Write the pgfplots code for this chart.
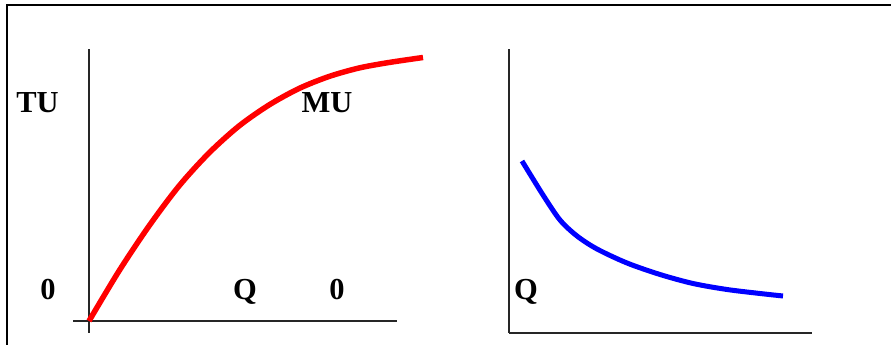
\documentclass[border=0pt]{standalone}
\usepackage{fontspec}
\setmainfont{Liberation Serif}
\usepackage{pgfplots}
\pgfplotsset{compat=1.18}

% curves, in pixels from each origin
\pgfplotstableread{
x y
0 0
30 50
60 95
90 135
120 168
150 195
180 216
210 232.5
240 244.5
270 253
300 258.5
334 263.5
}\tucurve
\pgfplotstableread{
x y
13 172
34 138
51 113
68 97
88 84
118 70
151 58.5
184 49.5
218 43.5
251 39.5
274 37
}\mucurve

\begin{document}
\begin{tikzpicture}[x=1pt,y=1pt]
\path[use as bounding box] (0,0) rectangle (891,345);
\draw[line width=2pt] (7,0) -- (7,339.5) -- (891,339.5);

\pgfplotsset{
  sketch/.style={
    scale only axis,
    xtick=\empty, ytick=\empty,
    axis line style={-, line width=1.4pt, black!85},
    clip=false,
  },
}

\begin{axis}[axis lines=middle, sketch,
  at={(73pt,12pt)}, anchor=south west,
  width=324pt, height=284pt,
  xmin=-16, xmax=308, ymin=-12, ymax=272]
\addplot[red, line width=5.5pt, smooth, tension=0.5] table {\tucurve};
\end{axis}

\begin{axis}[axis lines=left, sketch,
  at={(509pt,12pt)}, anchor=south west,
  width=303pt, height=284pt,
  xmin=0, xmax=303, ymin=0, ymax=284]
\addplot[blue, line width=5pt, smooth, tension=0.5] table {\mucurve};
\end{axis}

\begin{scope}[every node/.style={font=\fontsize{30.5}{36}\selectfont\bfseries, anchor=base, inner sep=0pt}]
\node at (37.5,232) {TU};
\node at (327,232) {MU};
\node at (48,45) {0};
\node at (245,45) {Q};
\node at (337,45) {0};
\node at (526,45) {Q};
\end{scope}
\end{tikzpicture}
\end{document}
